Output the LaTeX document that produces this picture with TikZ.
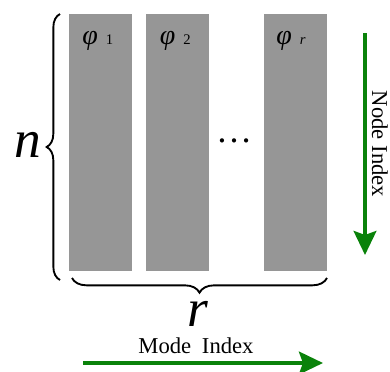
\documentclass[tikz,border=0pt]{standalone}
\usepackage{fontspec}
\setmainfont{Liberation Serif}
\usetikzlibrary{arrows.meta, positioning, calc, decorations.pathreplacing}
\definecolor{modegray}{HTML}{969696}
\definecolor{indexgreen}{HTML}{0A820A}

\begin{document}
\begin{tikzpicture}[x=0.75pt, y=-0.75pt, >={Stealth[length=18pt, width=17pt, inset=3pt]},
    modecol/.style={fill=modegray, minimum width=47.25pt, minimum height=192.75pt,
                    inner sep=0pt, anchor=north west},
    modelabel/.style={anchor=base west, inner sep=0pt},
    bigvar/.style={font=\fontsize{40}{40}\selectfont\itshape, inner sep=0pt},
    indexlabel/.style={font=\fontsize{17}{17}\selectfont, inner sep=1pt},
    indexarrow/.style={->, indexgreen, line width=3pt},
    bracket/.style={decorate, line width=1.4pt}]
  \useasboundingbox (0,0) rectangle (390,372);

  \node[modecol] (c1) at (69,14) {};
  \node[modecol, right=9.75pt of c1.north east, anchor=north west] (c2) {};
  \node[modecol, right=41.25pt of c2.north east, anchor=north west] (c3) {};

  \node[modelabel] (p1) at ($(c1.north west)+(13,30)$)
        {{\fontsize{21}{21}\selectfont\itshape φ}\hspace{6pt}{\fontsize{11}{11}\selectfont 1}};
  \node[modelabel] (p2) at ($(c2.north west)+(14,30)$)
        {{\fontsize{21}{21}\selectfont\itshape φ}\hspace{6pt}{\fontsize{11}{11}\selectfont 2}};
  \node[modelabel] (pr) at ($(c3.north west)+(12,30)$)
        {{\fontsize{21}{21}\selectfont\itshape φ}\hspace{6pt}{\fontsize{11}{11}\selectfont\itshape r}};
  \node[font=\fontsize{27}{27}\selectfont, inner sep=0pt] (dots) at (234,141) {…};

  \draw[bracket, decoration={brace, amplitude=10pt}] (60,280) -- (60,14);
  \draw[bracket, decoration={brace, amplitude=11pt}] (327,278) -- (72,278);
  \node[bigvar] (n) at (28,145) {n};
  \node[bigvar] (r) at (198,314) {r};

  \node[indexlabel] (mode) at (196,346) {Mode\hspace{8pt}Index};
  \coordinate (mstart) at (83,363);
  \coordinate (mend) at (323,363);
  \draw[indexarrow] (mstart) -- (mend);

  \coordinate (nstart) at (365,33);
  \coordinate (nend) at (365,255);
  \draw[indexarrow] (nstart) -- (nend);
  \node[indexlabel, rotate=-90] (node) at (380,144) {Node Index};
\end{tikzpicture}
\end{document}
